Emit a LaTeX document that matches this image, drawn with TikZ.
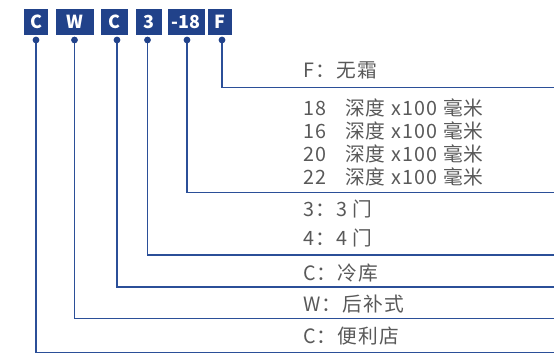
\documentclass[tikz,border=0pt]{standalone}
\usepackage{fontspec}
\setmainfont{Noto Sans CJK SC}
\newfontfamily\notefont[LetterSpace=6]{Noto Sans CJK SC}
\definecolor{codeblue}{HTML}{21428A}
\definecolor{linkblue}{HTML}{2B4F98}
\definecolor{notegray}{HTML}{595959}
\tikzset{
  codebox/.style={fill=codeblue, text=white, font=\fontsize{18}{20}\selectfont\bfseries,
    minimum height=26bp, inner sep=0pt},
  note/.style={anchor=base west, inner sep=0pt, text=notegray, font=\notefont\fontsize{19.8}{22}\selectfont},
  link/.style={draw=linkblue, line width=1.6bp}
}
\begin{document}
\begin{tikzpicture}[x=1bp,y=-1bp]
      \useasboundingbox (0,0) rectangle (554,352);
      \draw
        (36,22) node[codebox, minimum width=24bp] (c1){C}
        (75,22) node[codebox, minimum width=38bp] (w){W}
        (114.5,22) node[codebox, minimum width=27bp] (c2){C}
        (148.5,22) node[codebox, minimum width=26bp] (three){3}
        (186,22) node[codebox, minimum width=37bp] (depth){-18}
        (220,22) node[codebox, minimum width=24bp] (f){F};
      \path
        (36,40) coordinate (dc1)
        (74.5,40) coordinate (dw)
        (117,40) coordinate (dc2)
        (147.5,40) coordinate (dthree)
        (187,40) coordinate (ddepth)
        (222,40) coordinate (df)
        (554,352.6) coordinate (ec1)
        (554,318.5) coordinate (ew)
        (554,287) coordinate (ec2)
        (554,255) coordinate (ethree)
        (554,192.3) coordinate (edepth)
        (554,87.3) coordinate (ef);
      \draw
        (303,77.3) node[note] (nf){F：无霜}
        (303,115) node[note] (n18){18\hspace{0.95em}深度 x100 毫米}
        (303,138.3) node[note] (n16){16\hspace{0.95em}深度 x100 毫米}
        (303,161.7) node[note] (n20){20\hspace{0.95em}深度 x100 毫米}
        (303,184.3) node[note] (n22){22\hspace{0.95em}深度 x100 毫米}
        (303,216.7) node[note] (n3){3：3 门}
        (303,245) node[note] (n4){4：4 门}
        (303,280) node[note] (ncold){C：冷库}
        (303,311.7) node[note] (nback){W：后补式}
        (303,343.3) node[note] (nshop){C：便利店};
      \begin{scope}[link]
        \draw (dc1) |- (ec1);
        \draw (dw) |- (ew);
        \draw (dc2) |- (ec2);
        \draw (dthree) |- (ethree);
        \draw (ddepth) |- (edepth);
        \draw (df) |- (ef);
      \end{scope}
      \begin{scope}[fill=codeblue]
        \foreach \d in {dc1,dw,dc2,dthree,ddepth,df}
          \fill (\d) circle (3.4bp);
      \end{scope}
    \end{tikzpicture}
\end{document}
